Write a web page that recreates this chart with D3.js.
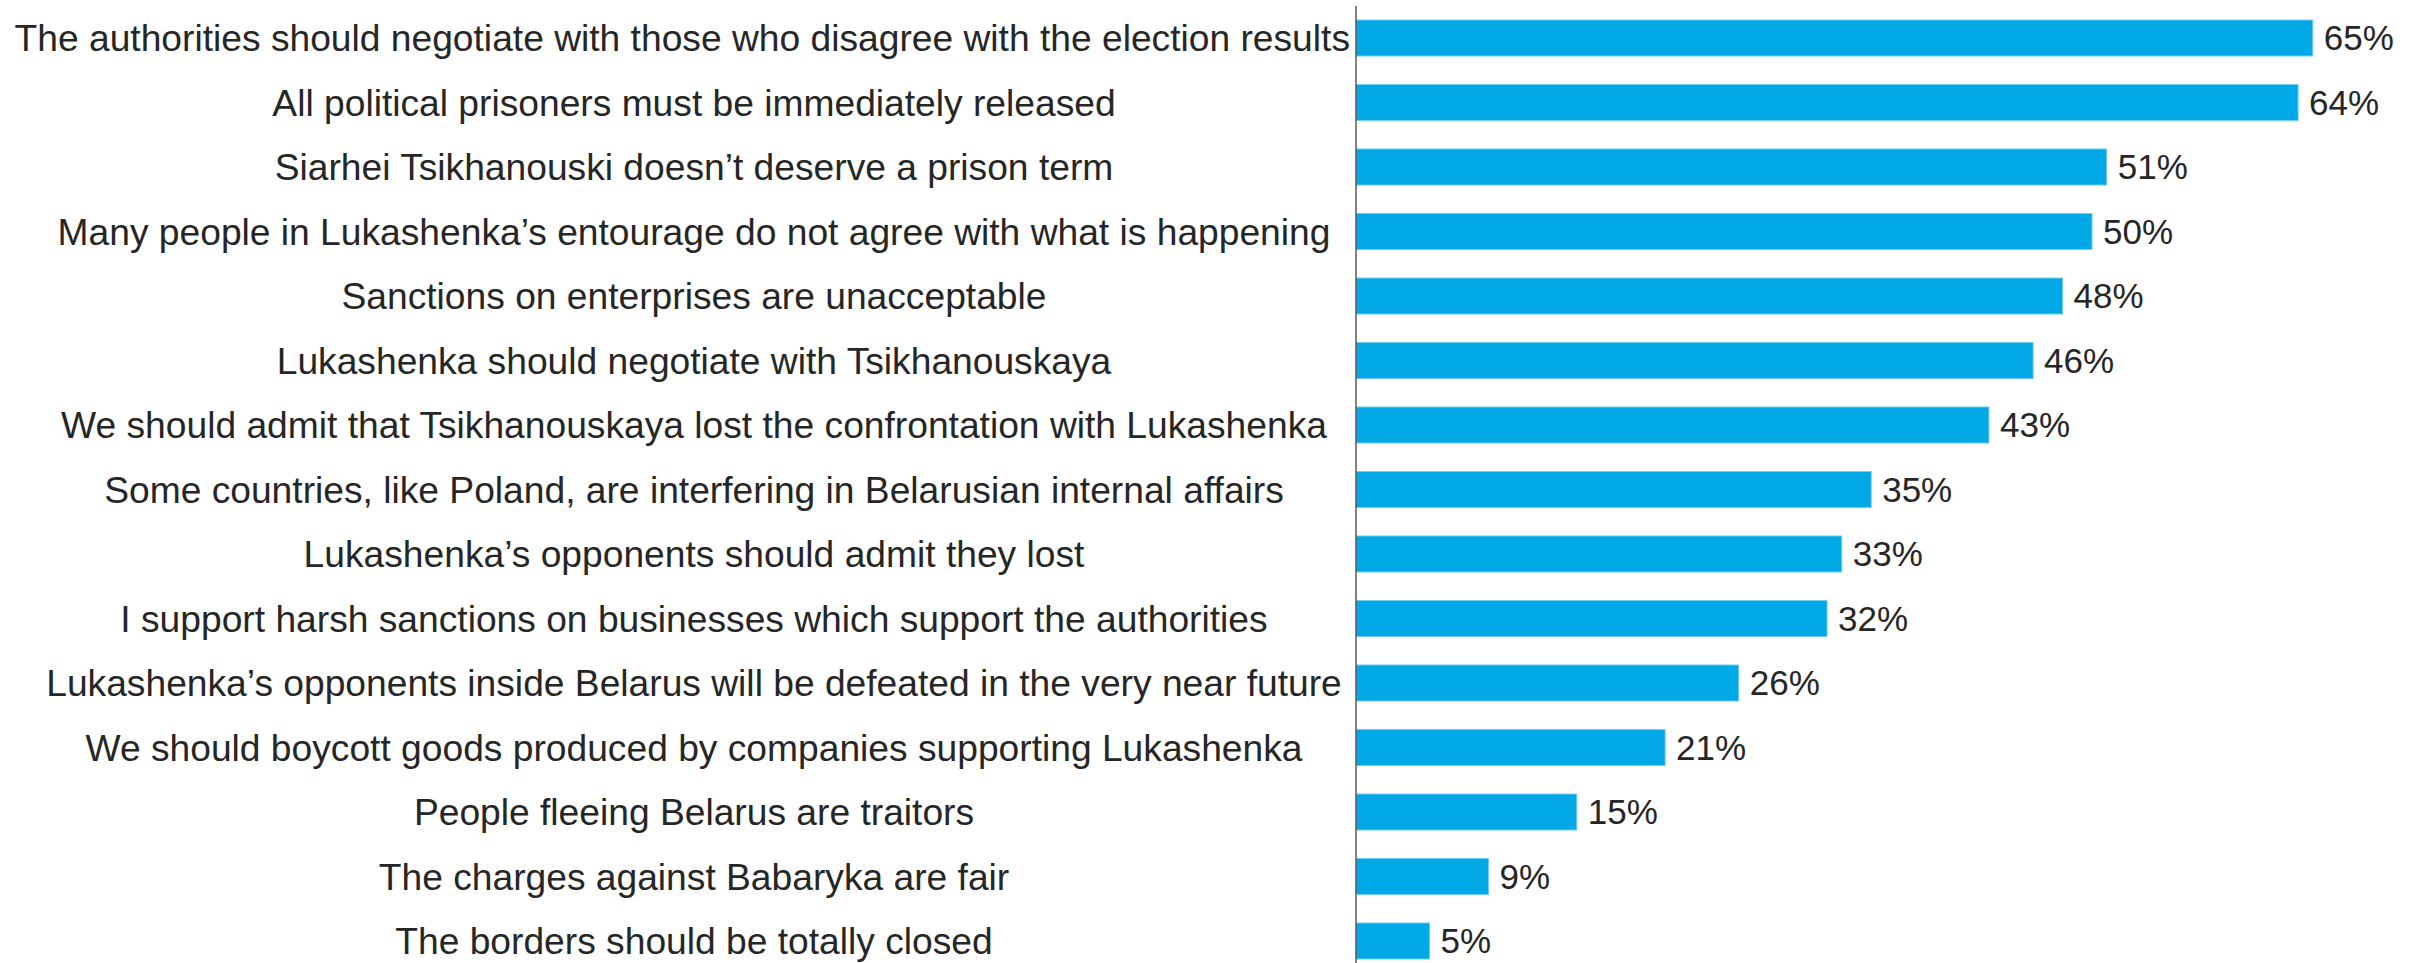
<!DOCTYPE html>
<html>
<head>
<meta charset="utf-8">
<script src="https://cdn.jsdelivr.net/npm/d3@7"></script>
<style>
  html, body { margin: 0; padding: 0; background: #fff; }
  svg { display: block; }
</style>
</head>
<body>
<svg id="chart" width="2425" height="963"></svg>
<script>
// Survey statements, ordered as shown top to bottom
const statements = [
  "The authorities should negotiate with those who disagree with the election results",
  "All political prisoners must be immediately released",
  "Siarhei Tsikhanouski doesn’t deserve a prison term",
  "Many people in Lukashenka’s entourage do not agree with what is happening",
  "Sanctions on enterprises are unacceptable",
  "Lukashenka should negotiate with Tsikhanouskaya",
  "We should admit that Tsikhanouskaya lost the confrontation with Lukashenka",
  "Some countries, like Poland, are interfering in Belarusian internal affairs",
  "Lukashenka’s opponents should admit they lost",
  "I support harsh sanctions on businesses which support the authorities",
  "Lukashenka’s opponents inside Belarus will be defeated in the very near future",
  "We should boycott goods produced by companies supporting Lukashenka",
  "People fleeing Belarus are traitors",
  "The charges against Babaryka are fair",
  "The borders should be totally closed"
];

// Share of respondents agreeing, percent
const agreePct = [65, 64, 51, 50, 48, 46, 43, 35, 33, 32, 26, 21, 15, 9, 5];

const data = statements.map((s, i) => ({ statement: s, value: agreePct[i] }));

const svg = d3.select("#chart");
const axisX = 1356;
const pxPerPct = 14.72;

const x = d3.scaleLinear()
  .domain([0, 100])
  .range([axisX, axisX + 100 * pxPerPct]);

const y = d3.scaleBand()
  .domain(statements)
  .range([5.75, 973.25])
  .paddingInner(0.442)
  .paddingOuter(0.221);

const fontFamily = "'Liberation Sans', Arial, sans-serif";
const textColor = "#262626";

// Bars
svg.append("g")
  .selectAll("rect")
  .data(data)
  .join("rect")
  .attr("x", x(0))
  .attr("y", d => y(d.statement))
  .attr("width", d => x(d.value) - x(0))
  .attr("height", y.bandwidth())
  .attr("fill", "#00a8e6")
  .attr("stroke", "#6fcdf2")
  .attr("stroke-width", 1);

// Category labels: centred in the label column, pushed left if they would reach the axis
const labelCenter = 694;
const labelMaxRight = axisX - 6;
svg.append("g")
  .selectAll("text")
  .data(data)
  .join("text")
  .attr("x", labelCenter)
  .attr("y", d => y(d.statement) + y.bandwidth() / 2)
  .attr("dy", "0.35em")
  .attr("text-anchor", "middle")
  .attr("font-family", fontFamily)
  .attr("font-size", 37.2)
  .attr("fill", textColor)
  .text(d => d.statement)
  .each(function () {
    const w = this.getComputedTextLength();
    if (labelCenter + w / 2 > labelMaxRight) {
      d3.select(this).attr("x", labelMaxRight - w / 2);
    }
  });

// Value labels
svg.append("g")
  .selectAll("text")
  .data(data)
  .join("text")
  .attr("x", d => x(d.value) + 11)
  .attr("y", d => y(d.statement) + y.bandwidth() / 2)
  .attr("dy", "0.35em")
  .attr("font-family", fontFamily)
  .attr("font-size", 35)
  .attr("fill", textColor)
  .text(d => d.value + "%");

// Vertical category axis line
svg.append("line")
  .attr("x1", axisX).attr("x2", axisX)
  .attr("y1", 6).attr("y2", 963)
  .attr("stroke", "#595959")
  .attr("stroke-width", 1.5);
</script>
</body>
</html>
